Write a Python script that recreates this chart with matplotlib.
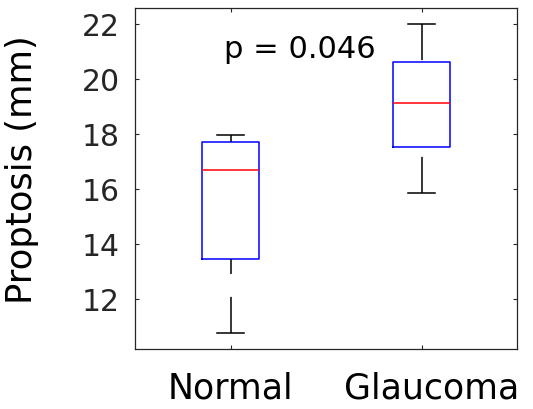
import matplotlib.pyplot as plt

plt.rcParams['font.family'] = ['DejaVu Sans']
plt.rcParams['lines.scale_dashes'] = False

groups = ['Normal', 'Glaucoma']
whislo = [10.75, 15.84]
q1 = [13.45, 17.53]
med = [16.68, 19.12]
q3 = [17.70, 20.61]
whishi = [17.96, 22.0]
yticks = [12, 14, 16, 18, 20, 22]
p_text = 'p = 0.046'

stats = []
for i, g in enumerate(groups):
    stats.append(dict(label=g, whislo=whislo[i], q1=q1[i], med=med[i],
                      q3=q3[i], whishi=whishi[i], fliers=[]))

fig = plt.figure(figsize=(5.33, 4.10), dpi=100)
ax = fig.add_axes([0.2533, 0.1463, 0.7167, 0.8317])

dark = '#262626'
lw = 1.1
bp = ax.bxp(stats, positions=[1, 2], widths=0.30, capwidths=0.145,
            showfliers=False,
            boxprops=dict(color='#0000ff', linewidth=lw),
            medianprops=dict(color='#ff0000', linewidth=lw),
            whiskerprops=dict(color='black', linewidth=lw,
                              linestyle=(0, (26, 16.5))),
            capprops=dict(color='black', linewidth=lw))

# matlab draws the dashes starting from the whisker end
for w in bp['whiskers']:
    w.set_ydata(w.get_ydata()[::-1])
    w.set_xdata(w.get_xdata()[::-1])

ax.set_xlim(0.5, 2.5)
ax.set_ylim(10.18, 22.58)
ax.set_xticks([1, 2])
ax.set_xticklabels(['', ''])
ax.set_yticks(yticks)
ax.set_yticklabels([str(v) for v in yticks])
ax.tick_params(direction='in', length=3.2, width=0.8, color=dark,
               labelcolor=dark, labelsize=21.5, pad=11,
               top=True, right=True)
for s in ax.spines.values():
    s.set_color(dark)
    s.set_linewidth(0.9)

ax.set_ylabel('Proptosis (mm)', fontsize=25.5, color='black')
ax.yaxis.set_label_coords(-0.251, 0.53)

xt = ax.get_xaxis_transform()
ax.text(1.0, -0.141, groups[0], transform=xt, ha='center', va='baseline',
        fontsize=25)
ax.text(2.052, -0.141, groups[1], transform=xt, ha='center', va='baseline',
        fontsize=25)

ax.text(1.364, 20.79, p_text, ha='center', va='baseline', fontsize=22)

fig.savefig('out.png', dpi=100)
